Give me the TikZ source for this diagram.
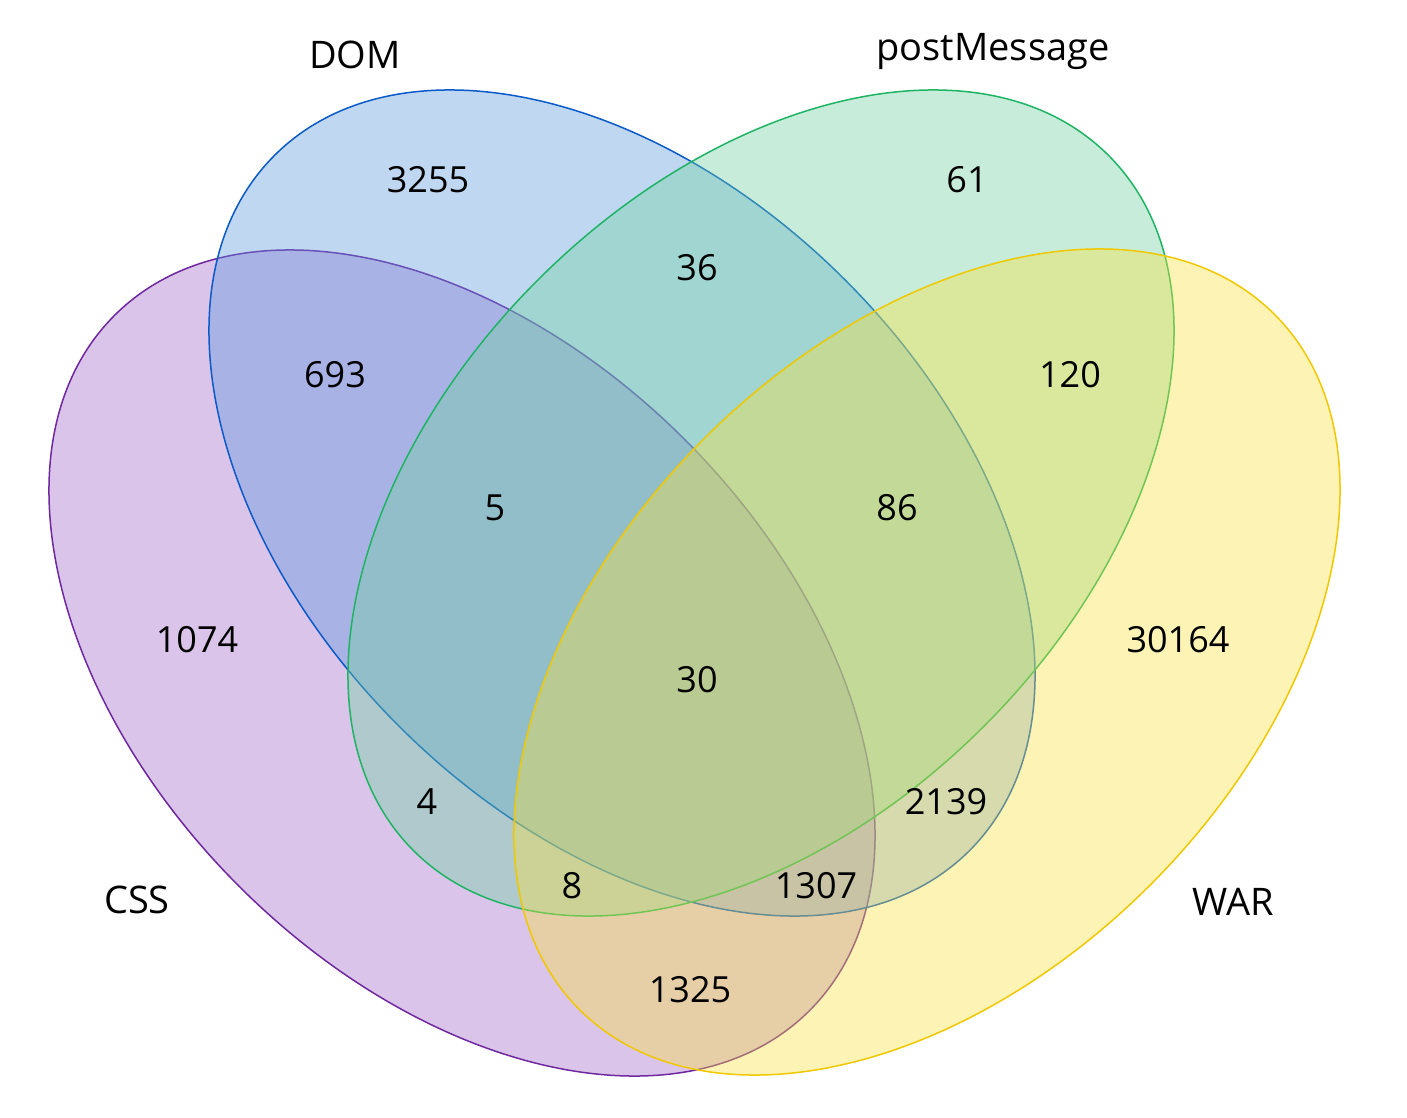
\documentclass[tikz,border=0pt]{standalone}
\usepackage{fontspec}
\setmainfont{Open Sans}
\begin{document}
\begin{tikzpicture}[x=1pt,y=-1pt,
  set/.style={line width=1.5pt, fill opacity=0.38},
  lab/.style={font=\fontsize{38}{40}\selectfont, inner sep=0pt},
  num/.style={font=\fontsize{36}{40}\selectfont, inner sep=0pt}]
\definecolor{cssB}{RGB}{112,40,160}\definecolor{cssF}{RGB}{160,100,200}
\definecolor{domB}{RGB}{10,90,200}\definecolor{domF}{RGB}{90,150,220}
\definecolor{pmB}{RGB}{30,180,100}\definecolor{pmF}{RGB}{110,210,160}
\definecolor{warB}{RGB}{240,200,0}\definecolor{warF}{RGB}{250,225,60}
\useasboundingbox[fill=white] (0,0) rectangle (1407,1118);
\draw[set,draw=cssB,fill=cssF,rotate around={-45:(462,663)}] (462,663) ellipse [x radius=491.5,y radius=315.5];
\draw[set,draw=domB,fill=domF,rotate around={-45:(622,503)}] (622,503) ellipse [x radius=491.5,y radius=315.5];
\draw[set,draw=pmB,fill=pmF,rotate around={45:(761,503)}] (761,503) ellipse [x radius=491.5,y radius=315.5];
\draw[set,draw=warB,fill=warF,rotate around={45:(927,662)}] (927,662) ellipse [x radius=491.5,y radius=315.5];
\node[lab] (lDOM) at (355,55) {DOM};
\node[lab] (lPM) at (993,52) {postMessage};
\node[lab] (lCSS) at (137,900) {CSS};
\node[lab] (lWAR) at (1233,902) {WAR};
\node[num] (n1) at (428,180) {3255};
\node[num] (n2) at (967,180) {61};
\node[num] (n3) at (697,268) {36};
\node[num] (n4) at (335,375) {693};
\node[num] (n5) at (1070,375) {120};
\node[num] (n6) at (495,508) {5};
\node[num] (n7) at (897,508) {86};
\node[num] (n8) at (197,640) {1074};
\node[num] (n9) at (1178,640) {30164};
\node[num] (n10) at (697,680) {30};
\node[num] (n11) at (427,802) {4};
\node[num] (n12) at (946,802) {2139};
\node[num] (n13) at (572,886) {8};
\node[num] (n14) at (816,886) {1307};
\node[num] (n15) at (690,990) {1325};
\end{tikzpicture}
\end{document}
